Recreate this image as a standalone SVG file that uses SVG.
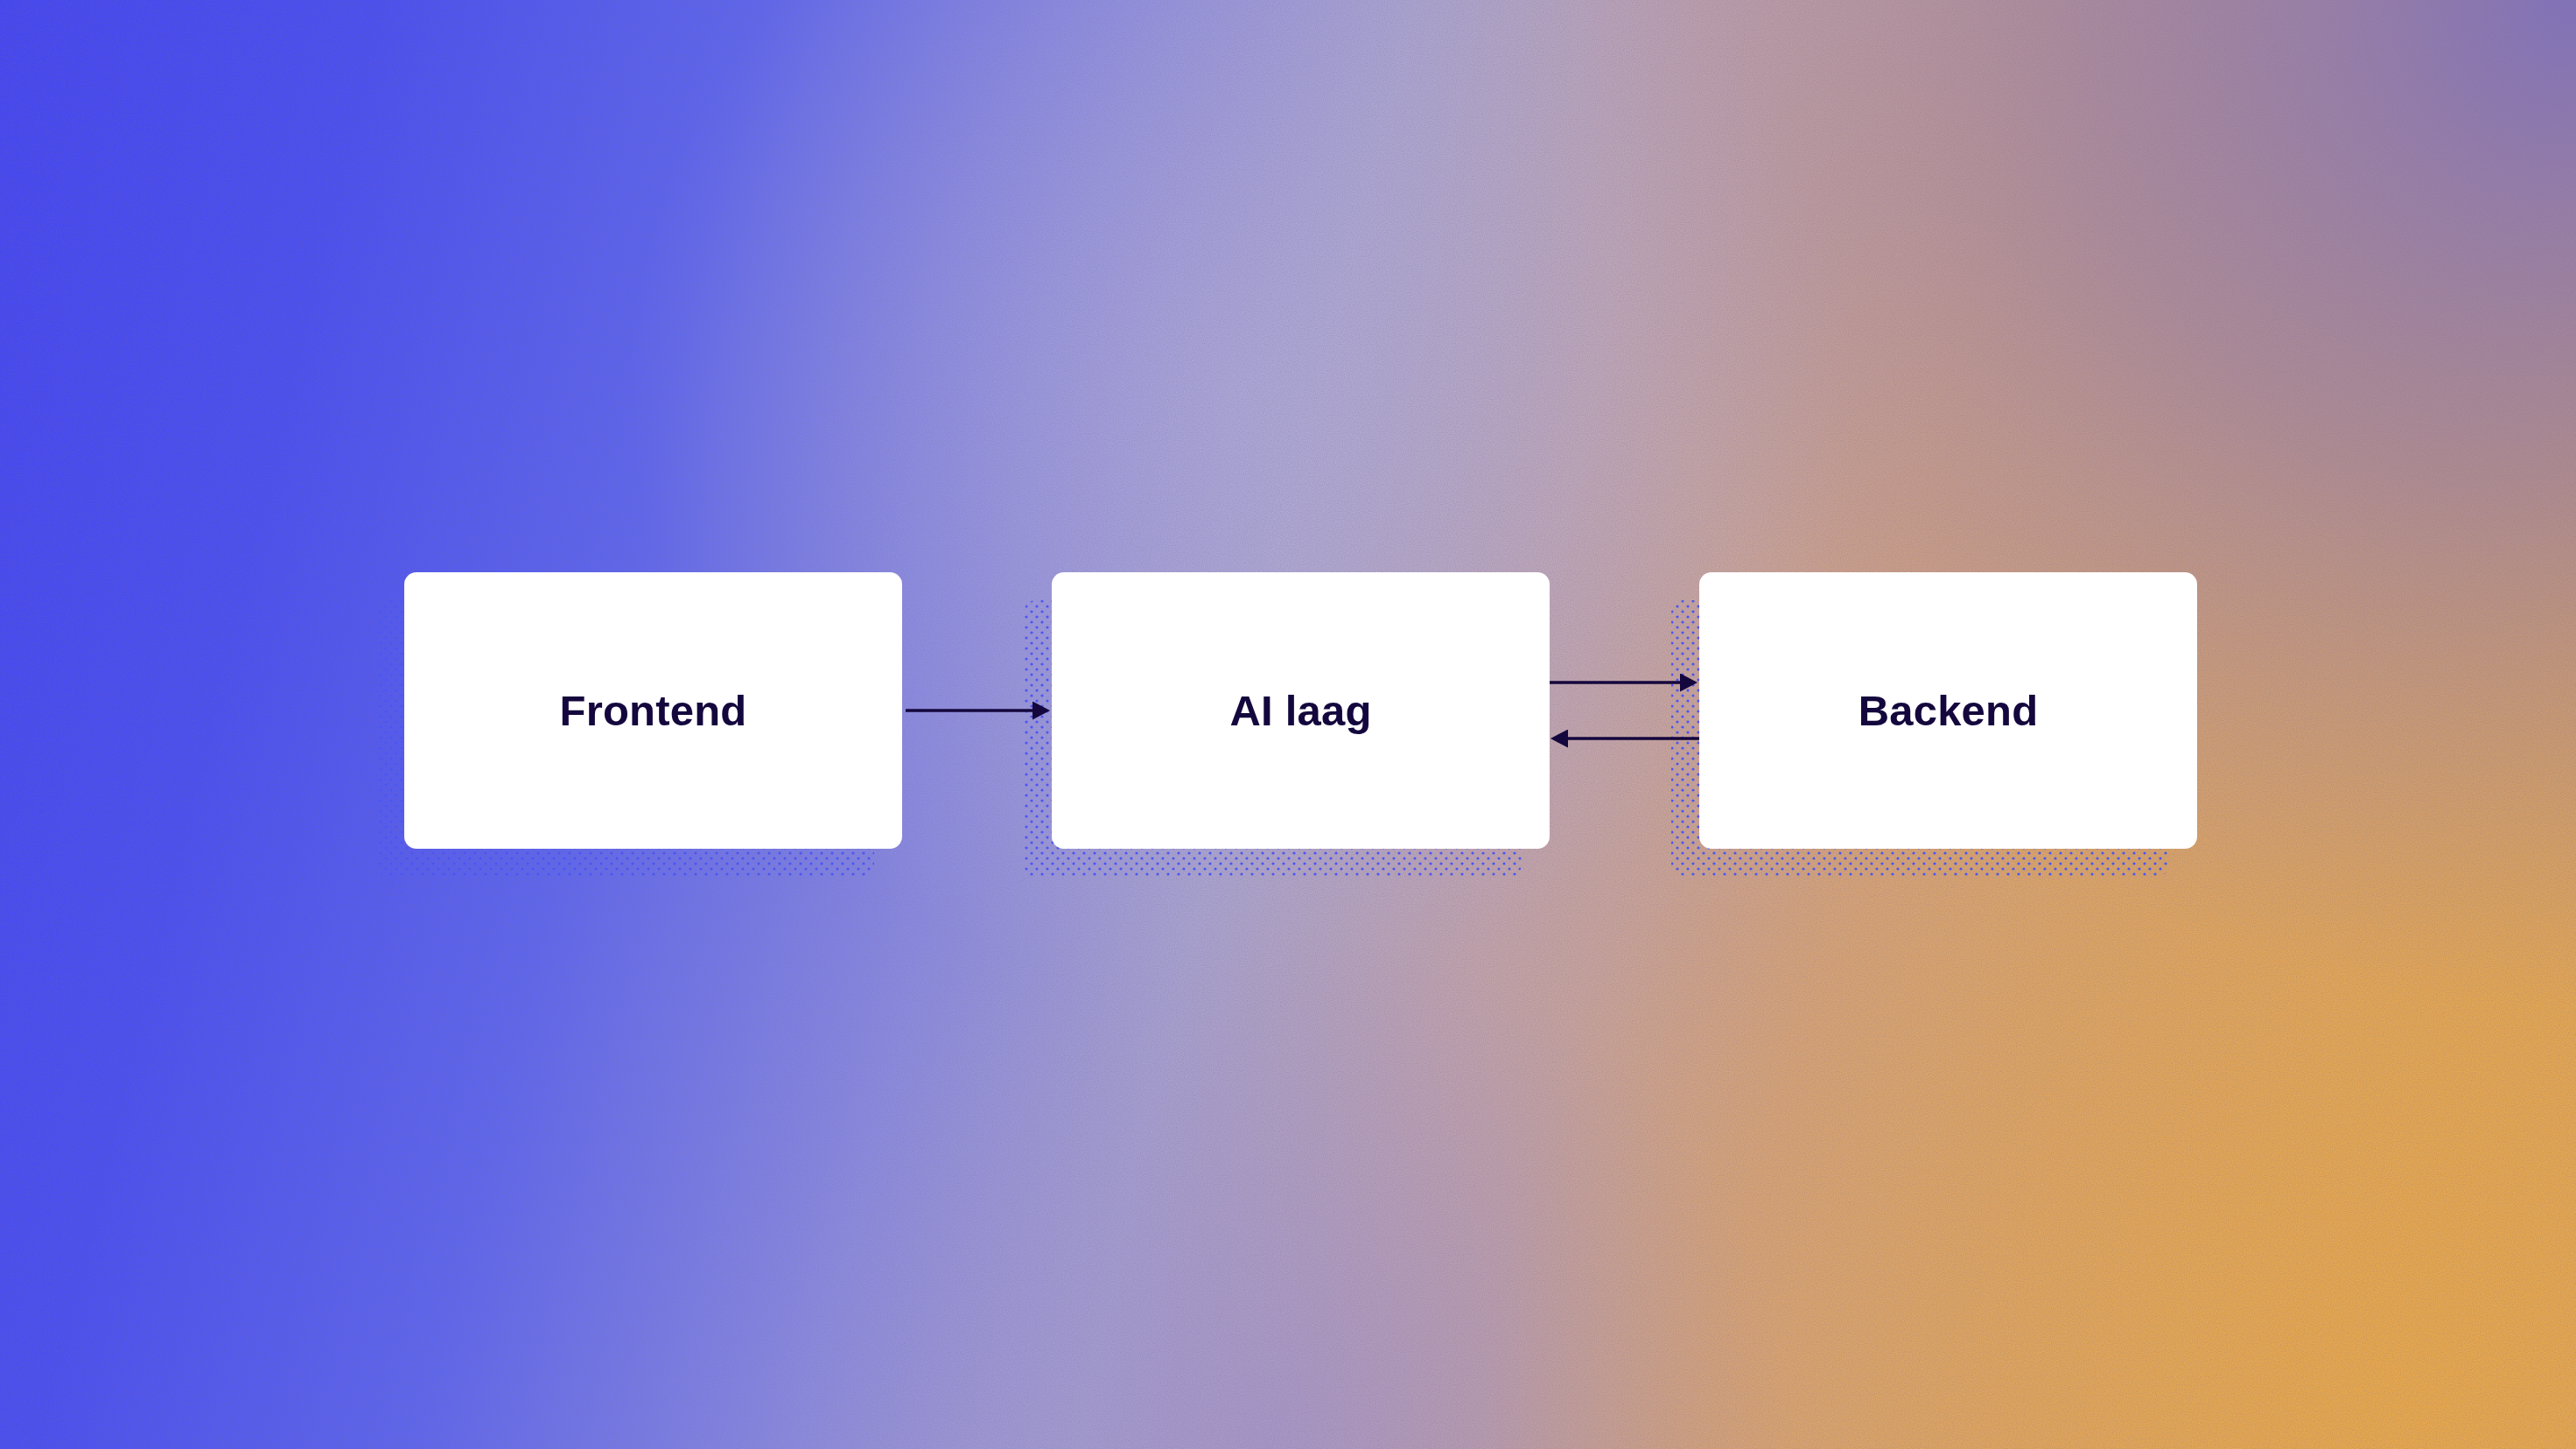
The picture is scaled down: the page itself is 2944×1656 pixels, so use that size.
<svg xmlns="http://www.w3.org/2000/svg" width="2944" height="1656" viewBox="0 0 2944 1656">
  <defs>
    <linearGradient id="bg" x1="0" y1="0" x2="2944" y2="700" gradientUnits="userSpaceOnUse">
      <stop offset="0" stop-color="#4446f1"/>
      <stop offset="0.14" stop-color="#4a4ff0"/>
      <stop offset="0.28" stop-color="#5e66ed"/>
      <stop offset="0.42" stop-color="#8a8adf"/>
      <stop offset="0.52" stop-color="#a8a2ce"/>
      <stop offset="0.62" stop-color="#c0a3ac"/>
      <stop offset="0.75" stop-color="#d2a27f"/>
      <stop offset="1" stop-color="#e2a652"/>
    </linearGradient>
    <radialGradient id="tr" cx="2944" cy="0" r="1150" gradientUnits="userSpaceOnUse">
      <stop offset="0" stop-color="#7d70c0" stop-opacity="0.95"/>
      <stop offset="0.5" stop-color="#8a78b8" stop-opacity="0.55"/>
      <stop offset="1" stop-color="#9a86b4" stop-opacity="0"/>
    </radialGradient>
    <radialGradient id="br" cx="2750" cy="1600" r="1050" gradientUnits="userSpaceOnUse">
      <stop offset="0" stop-color="#e8a84a" stop-opacity="0.95"/>
      <stop offset="1" stop-color="#e0a458" stop-opacity="0"/>
    </radialGradient>
    <radialGradient id="hl" cx="1420" cy="450" r="700" gradientUnits="userSpaceOnUse">
      <stop offset="0" stop-color="#b4aed8" stop-opacity="0.6"/>
      <stop offset="1" stop-color="#b4aed8" stop-opacity="0"/>
    </radialGradient>
    <radialGradient id="bc" cx="1450" cy="1656" r="600" gradientUnits="userSpaceOnUse">
      <stop offset="0" stop-color="#9a8ed2" stop-opacity="0.6"/>
      <stop offset="1" stop-color="#9a8ed2" stop-opacity="0"/>
    </radialGradient>
    <filter id="grain" x="0" y="0" width="100%" height="100%">
      <feTurbulence type="fractalNoise" baseFrequency="0.9" numOctaves="1" seed="3" result="n"/>
      <feColorMatrix in="n" type="matrix" values="0 0 0 0 0.2  0 0 0 0 0.15  0 0 0 0 0.3  0 0 0 -1.6 1.0"/>
    </filter>
    <pattern id="dots" width="12" height="12" patternUnits="userSpaceOnUse">
      <circle cx="3" cy="3" r="1.6" fill="#4b55f2"/>
      <circle cx="9" cy="9" r="1.6" fill="#4b55f2"/>
    </pattern>
    <marker id="arrow" viewBox="0 0 20 21" refX="12" refY="10.5" markerWidth="20" markerHeight="21" markerUnits="userSpaceOnUse" orient="auto">
      <path d="M0,0 L20,10.5 L0,21 Z" fill="#14073d"/>
    </marker>
    <style>
      .shadow { fill: url(#dots); }
      .box { fill: #ffffff; }
      .label { font-family: "Liberation Sans", Arial, sans-serif; font-weight: 700; font-size: 49px; fill: #14073d; text-anchor: middle; letter-spacing: 0.2px; }
      .conn { stroke: #14073d; stroke-width: 3.5; fill: none; marker-end: url(#arrow); }
    </style>
  </defs>

  <g id="background">
    <rect width="2944" height="1656" fill="url(#bg)"/>
    <rect width="2944" height="1656" fill="url(#hl)"/>
    <rect width="2944" height="1656" fill="url(#bc)"/>
    <rect width="2944" height="1656" fill="url(#br)"/>
    <rect width="2944" height="1656" fill="url(#tr)"/>
    <rect width="2944" height="1656" filter="url(#grain)" opacity="0.4"/>
  </g>

  <g id="node-frontend">
    <rect class="shadow" x="430" y="686" width="569" height="316" rx="14"/>
    <rect class="box" x="462" y="654" width="569" height="316" rx="14"/>
    <text class="label" x="746.5" y="829">Frontend</text>
  </g>

  <g id="node-ai-laag">
    <rect class="shadow" x="1170" y="686" width="569" height="316" rx="14"/>
    <rect class="box" x="1202" y="654" width="569" height="316" rx="14"/>
    <text class="label" x="1486.5" y="829">AI laag</text>
  </g>

  <g id="node-backend">
    <rect class="shadow" x="1910" y="686" width="569" height="316" rx="14"/>
    <rect class="box" x="1942" y="654" width="569" height="316" rx="14"/>
    <text class="label" x="2226.5" y="829">Backend</text>
  </g>

  <g id="connectors">
    <line class="conn" x1="1035" y1="812" x2="1192" y2="812"/>
    <line class="conn" x1="1771" y1="780" x2="1932" y2="780"/>
    <line class="conn" x1="1942" y1="844" x2="1780" y2="844"/>
  </g>
</svg>
